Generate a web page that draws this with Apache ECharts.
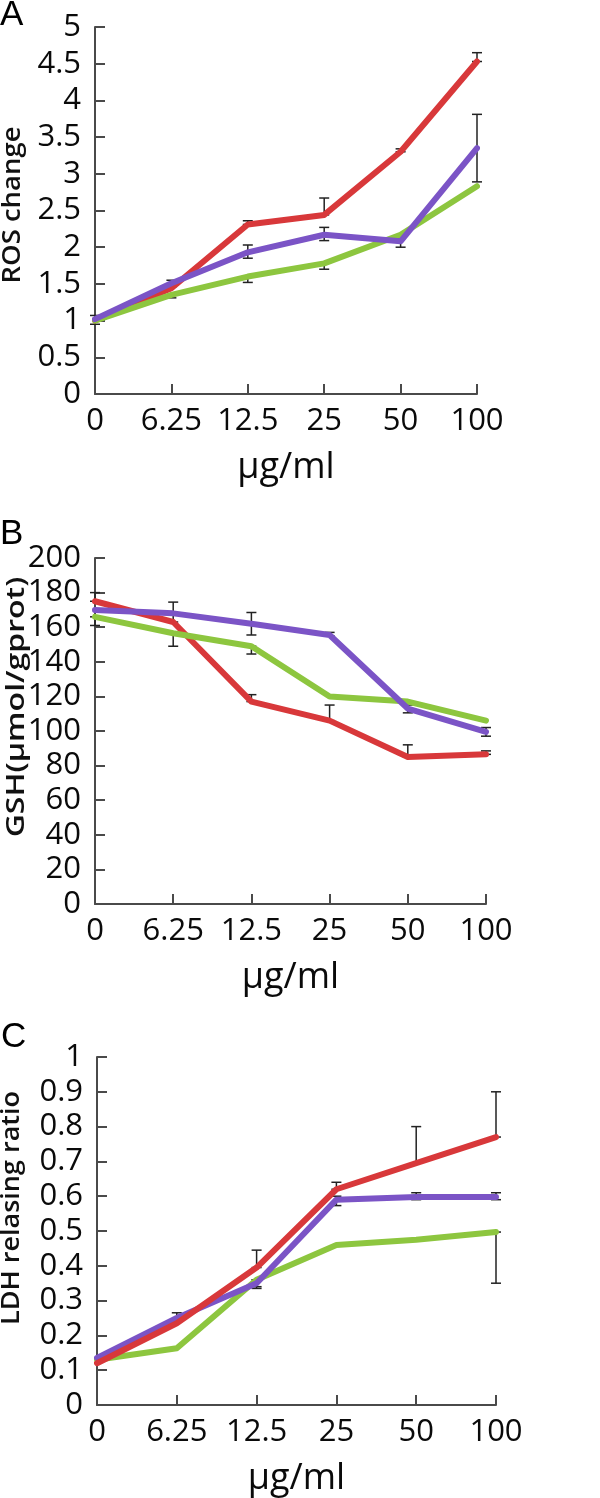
<!DOCTYPE html>
<html><head><meta charset="utf-8">
<script src="https://cdn.jsdelivr.net/npm/echarts@6/dist/echarts.min.js"></script>
<style>html,body{margin:0;padding:0;background:#fff}#c{width:600px;height:1498px}</style>
</head><body><div id="c"></div>
<script>
// ---- data ----
const categories = ['0', '6.25', '12.5', '25', '50', '100'];

// Panel A: ROS change
const rosRed    = [1.00, 1.44, 2.31, 2.44, 3.30, 4.53];
const rosGreen  = [1.00, 1.35, 1.60, 1.78, 2.17, 2.83];
const rosPurple = [1.02, 1.51, 1.93, 2.17, 2.08, 3.35];
const rosRedErr    = [null, null, [2.31, 2.36], [2.44, 2.67], [3.30, 3.34], [4.53, 4.65]];
const rosGreenErr  = [[0.95, 1.07], [1.31, 1.35], [1.52, 1.60], [1.70, 1.78], null, null];
const rosPurpleErr = [null, [1.46, 1.55], [1.85, 2.03], [2.09, 2.27], [2.00, 2.12], [2.89, 3.81]];

// Panel B: GSH
const gshRed    = [175, 163, 117, 106, 85, 86.5];
const gshGreen  = [166, 156.5, 149, 120, 117, 106];
const gshPurple = [170, 168, 162, 155.5, 113, 99.5];
const gshRedErr    = [[175, 180], null, [117, 121], [106, 115], [85, 92], [86.5, 88.5]];
const gshGreenErr  = [[161, 166], [149, 156.5], [144.5, 149], null, null, null];
const gshPurpleErr = [null, [163, 174.5], [155.5, 168.5], [155, 157], [110.5, 115], [97, 102]];

// Panel C: LDH releasing ratio
const ldhRed    = [0.12, 0.235, 0.395, 0.62, 0.695, 0.77];
const ldhGreen  = [0.13, 0.163, 0.36, 0.46, 0.475, 0.497];
const ldhPurple = [0.135, 0.25, 0.35, 0.59, 0.598, 0.598];
const ldhRedErr    = [null, null, [0.395, 0.445], [0.62, 0.64], [0.695, 0.80], [0.77, 0.90]];
const ldhGreenErr  = [null, null, [0.335, 0.36], null, null, [0.35, 0.497]];
const ldhPurpleErr = [null, [0.24, 0.265], [0.34, 0.36], [0.573, 0.60], [0.59, 0.61], [0.59, 0.61]];

const yTitles = ['ROS change', 'GSH(μmol/gprot)', 'LDH relasing ratio'];
const panelLetters = ['A', 'B', 'C'];
const xTitle = 'μg/ml';
const yRanges = [[0, 5, 0.5], [0, 200, 20], [0, 1, 0.1]];

// ---- style ----
const RED = '#d8383a', GREEN = '#8dc63f', PURPLE = '#7b54c6';
const FONT = 'Open Sans';
const AX = '#4a4a4a';

const grids = [
  {left: 95, top: 27, width: 382, height: 367},
  {left: 95, top: 558, width: 391, height: 346},
  {left: 97, top: 1057, width: 399, height: 349}
];

function lineSeries(gi, data, color, z) {
  return {type: 'line', xAxisIndex: gi, yAxisIndex: gi, data, showSymbol: false, symbol: 'none',
    lineStyle: {color, width: 6, cap: 'round', join: 'round'}, itemStyle: {color}, z, silent: true, animation: false};
}
function errSeries(gi, errs) {
  const data = [];
  errs.forEach((e, i) => { if (e) data.push([i, e[0], e[1]]); });
  return {type: 'custom', xAxisIndex: gi, yAxisIndex: gi, z: 1, silent: true, animation: false, data,
    encode: {x: 0, y: [1, 2]},
    renderItem(params, api) {
      const lo = api.coord([api.value(0), api.value(1)]);
      const hi = api.coord([api.value(0), api.value(2)]);
      const w = 5;
      const st = {stroke: '#222', lineWidth: 1.5};
      return {type: 'group', children: [
        {type: 'line', shape: {x1: lo[0], y1: lo[1], x2: hi[0], y2: hi[1]}, style: st},
        {type: 'line', shape: {x1: lo[0] - w, y1: lo[1], x2: lo[0] + w, y2: lo[1]}, style: st},
        {type: 'line', shape: {x1: hi[0] - w, y1: hi[1], x2: hi[0] + w, y2: hi[1]}, style: st}
      ]};
    }};
}

const xAxes = grids.map((g, i) => ({
  type: 'category', gridIndex: i, data: categories, boundaryGap: false,
  axisLine: {show: true, lineStyle: {color: AX, width: 2}},
  axisTick: {show: true, inside: true, length: 10, interval: 0, lineStyle: {color: AX, width: 2}},
  axisLabel: {interval: 0, fontSize: 31, fontFamily: FONT, color: '#0a0a0a', margin: 12},
  splitLine: {show: false},
  name: xTitle, nameLocation: 'middle', nameGap: 56,
  nameTextStyle: {fontSize: 36, fontFamily: FONT, color: '#0a0a0a'}
}));
const yAxes = yRanges.map((r, i) => ({
  type: 'value', gridIndex: i, min: r[0], max: r[1], interval: r[2],
  axisLine: {show: true, lineStyle: {color: AX, width: 2}},
  axisTick: {show: true, inside: true, length: 10, lineStyle: {color: AX, width: 2}},
  axisLabel: {fontSize: 31, fontFamily: FONT, color: '#0a0a0a', margin: 14},
  splitLine: {show: false}
}));

const series = [
  errSeries(0, rosRedErr), errSeries(0, rosGreenErr), errSeries(0, rosPurpleErr),
  lineSeries(0, rosRed, RED, 3), lineSeries(0, rosGreen, GREEN, 4), lineSeries(0, rosPurple, PURPLE, 5),
  errSeries(1, gshRedErr), errSeries(1, gshGreenErr), errSeries(1, gshPurpleErr),
  lineSeries(1, gshRed, RED, 3), lineSeries(1, gshGreen, GREEN, 4), lineSeries(1, gshPurple, PURPLE, 5),
  errSeries(2, ldhRedErr), errSeries(2, ldhGreenErr), errSeries(2, ldhPurpleErr),
  lineSeries(2, ldhRed, RED, 5), lineSeries(2, ldhGreen, GREEN, 3), lineSeries(2, ldhPurple, PURPLE, 4)
];

const letterPos = [[0, -2], [0, 517], [1, 1020]];
const titlePos = [[13, 205, 1.1], [17, 707, 1.28], [12, 1208, 1.08]];
const graphic = [];
panelLetters.forEach((t, i) => graphic.push({type: 'text', left: letterPos[i][0], top: letterPos[i][1],
  style: {text: t, fontSize: 35, fontFamily: 'Liberation Sans', fill: '#000'}}));
yTitles.forEach((t, i) => graphic.push({type: 'text', x: titlePos[i][0], y: titlePos[i][1], rotation: Math.PI / 2,
  scaleX: titlePos[i][2],
  style: {text: t, fontSize: 25, fontWeight: 600, fontFamily: FONT, fill: '#111', align: 'center', verticalAlign: 'middle'}}));

const chart = echarts.init(document.getElementById('c'), null, {renderer: 'canvas'});
chart.setOption({
  animation: false, backgroundColor: '#fff',
  grid: grids, xAxis: xAxes, yAxis: yAxes, series, graphic
});
</script></body></html>
